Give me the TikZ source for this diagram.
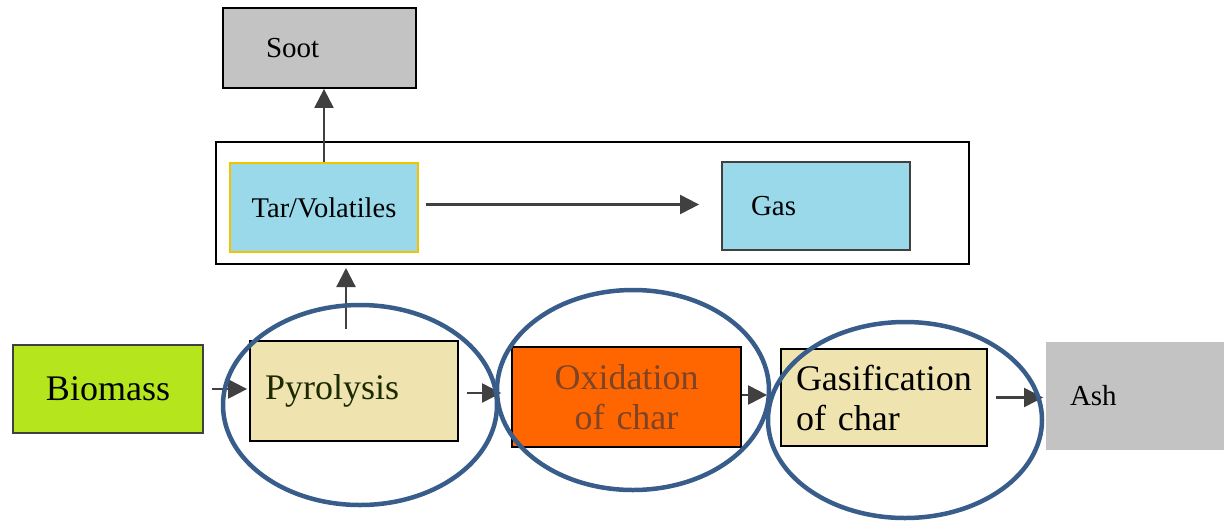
\documentclass[tikz,border=0pt]{standalone}
\usepackage{fontspec}
\setmainfont{Liberation Serif}
\usetikzlibrary{arrows.meta}
\definecolor{sootgray}{HTML}{C3C3C3}
\definecolor{vapour}{HTML}{99D9EA}
\definecolor{tarline}{HTML}{F2C400}
\definecolor{biogreen}{HTML}{B5E61D}
\definecolor{tan}{HTML}{EFE4B0}
\definecolor{burn}{HTML}{FF6600}
\definecolor{burntext}{RGB}{125,68,40}
\definecolor{pyrotext}{HTML}{1C2A00}
\definecolor{ringblue}{HTML}{385D8A}
\definecolor{arrowgray}{HTML}{404040}
\tikzset{   stage/.style = {rectangle, draw = arrowgray, line width = 1.8pt, inner ysep = 0pt, align = left},
            big/.style = {font = \fontsize{36}{40}\selectfont},
            small/.style = {font = \fontsize{29}{32}\selectfont},
            flow/.style = {draw = arrowgray, line width = 2.2pt, -{Triangle[length=19pt, width=19pt]}},
            ring/.style = {draw = ringblue, line width = 4.5pt}}

\begin{document}
\begin{tikzpicture}[x=1pt, y=-1pt]
    \useasboundingbox (0,0) rectangle (1224,520);
    % upper part: products of pyrolysis
    \node[stage, small, fill = sootgray, draw = black, minimum height = 80pt, text width = 107pt, inner xsep = 43pt] (soot) at (319.5,48) {Soot};
    \node[rectangle, draw = black, line width = 2pt, minimum width = 753pt, minimum height = 122pt] (frame) at (592.5,203) {};
    \node[stage, font = \fontsize{28.5}{32}\selectfont, fill = vapour, draw = tarline, minimum height = 89pt, text width = 168pt, inner xsep = 10pt, align = center] (tar) at (324,207.5) {Tar/Volatiles};
    \node[stage, small, fill = vapour, minimum height = 88pt, text width = 130pt, inner xsep = 29pt] (gas) at (816,206) {Gas};
    % lower part: the conversion chain
    \node[stage, big, fill = biogreen, minimum height = 88pt, text width = 170pt, inner xsep = 10pt, align = center] (bio) at (108,389) {Biomass};
    \node[stage, big, text = pyrotext, fill = tan, draw = black, minimum height = 100pt, text width = 178pt, inner xsep = 15pt] (pyro) at (354,391) {Pyrolysis};
    \node[stage, big, text = burntext, fill = burn, draw = black, minimum height = 100pt, text width = 209pt, inner xsep = 10pt, align = center] (oxid) at (626.5,397) {Oxidation\\of char};
    \node[stage, big, fill = tan, draw = black, minimum height = 97pt, text width = 176pt, inner xsep = 15pt] (gasif) at (884,397.5) {Gasification\\of char};
    \node[stage, small, fill = sootgray, draw = none, minimum height = 108pt, text width = 130pt, inner xsep = 24pt] (ash) at (1135,396) {Ash};
    % arrows
    \draw[flow] (tar.north) -- (tar.north |- soot.south);
    \draw[flow, shorten <=7pt, shorten >=22pt] ([yshift=3pt]tar.east) -- ([yshift=3pt]tar.east -| gas.west);
    \draw[flow] ([xshift=-8pt, yshift=11pt]pyro.north) -- ([xshift=-8pt, yshift=-3pt]pyro.north |- frame.south);
    \draw[flow, shorten <=8pt, shorten >=2pt] (bio.east) -- (bio.east -| pyro.west);
    \draw[flow, shorten <=8pt, shorten >=10pt] ([yshift=-2pt]pyro.east) -- ([yshift=-2pt]pyro.east -| oxid.west);
    \draw[flow, shorten >=13pt] ([yshift=2pt]oxid.east) -- ([yshift=2pt]oxid.east -| gasif.west);
    \draw[flow, shorten <=8pt, shorten >=2pt] (gasif.east) -- (gasif.east -| ash.west);
    % highlighted zones
    \draw[ring] (360,405) ellipse [x radius=137pt, y radius=100pt];
    \draw[ring] (633,390) ellipse [x radius=136pt, y radius=100pt];
    \draw[ring] (905,420) ellipse [x radius=137pt, y radius=98pt];
\end{tikzpicture}
\end{document}
